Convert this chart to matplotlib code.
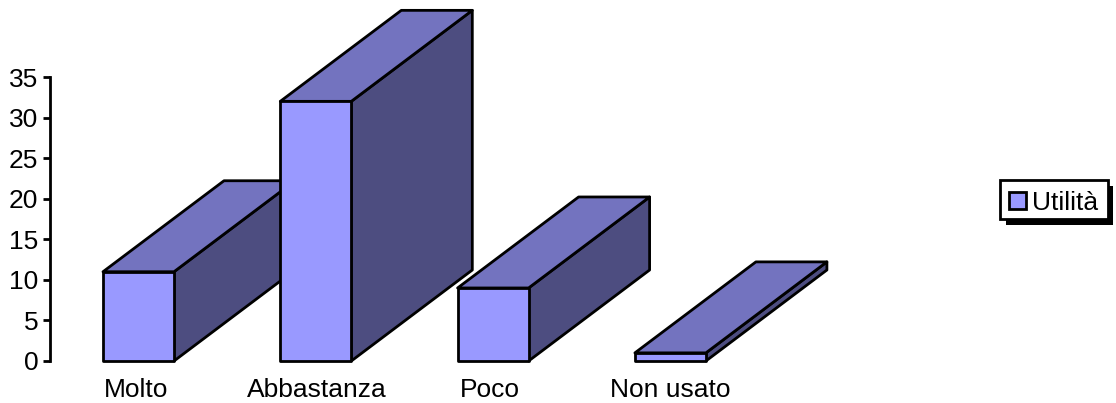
import matplotlib
matplotlib.use("Agg")
import matplotlib.pyplot as plt
from matplotlib.patches import Polygon, Rectangle

categories = ["Molto", "Abbastanza", "Poco", "Non usato"]
values = [11, 32, 9, 1]
y_ticks = [0, 5, 10, 15, 20, 25, 30, 35]
series_name = "Utilità"

W, H = 1116, 403
plt.rcParams['font.family'] = ['Liberation Sans', 'DejaVu Sans']
fig = plt.figure(figsize=(W / 100, H / 100), dpi=100, facecolor='white')
ax = fig.add_axes([0, 0, 1, 1])

# layout in pixels -> axis scales
x_unit = 177.3
x0_px = 138.5
y_unit = 8.114
y0_px = 361.0
ax.set_xlim(-x0_px / x_unit, (W - x0_px) / x_unit)
ax.set_ylim(-(H - y0_px) / y_unit, y0_px / y_unit)
ax.axis('off')

bar_w = 71 / x_unit
depth_x = 121 / x_unit
depth_y = 91 / y_unit
lw = 2.0
fs = 19
FRONT, SIDE, TOP = '#9999ff', '#4d4d80', '#7373bf'

for i, v in enumerate(values):
    l, r = i - bar_w / 2, i + bar_w / 2
    kw = dict(edgecolor='black', linewidth=lw, joinstyle='round', clip_on=False)
    ax.add_patch(Polygon([(r, 0), (r + depth_x, depth_y), (r + depth_x, v + depth_y), (r, v)], facecolor=SIDE, **kw))
    ax.add_patch(Polygon([(l, v), (r, v), (r + depth_x, v + depth_y), (l + depth_x, v + depth_y)], facecolor=TOP, **kw))
    ax.add_patch(Rectangle((l, 0), r - l, v, facecolor=FRONT, **kw))

# category labels (left-anchored as in the reference)
label_px = [104, 247, 460, 610]
for name, px in zip(categories, label_px):
    ax.text((px - x0_px) / x_unit, -(397 - y0_px) / y_unit, name, fontsize=fs,
            ha='left', va='baseline', color='black')

# value axis
axis_x = (50 - x0_px) / x_unit
tick_x = (43 - x0_px) / x_unit
ax.plot([axis_x, axis_x], [0, y_ticks[-1]], color='black', lw=lw, solid_capstyle='projecting')
for t in y_ticks:
    ax.plot([tick_x, axis_x], [t, t], color='black', lw=lw, solid_capstyle='butt')
    ax.text((38.5 - x0_px) / x_unit, t, str(t), fontsize=fs, ha='right', va='center_baseline', color='black')

# legend, drawn in axes-fraction pixels
tr = ax.transAxes
def px_box(x, y, w, h, **kw):
    ax.add_patch(Rectangle((x / W, 1 - (y + h) / H), w / W, h / H, transform=tr, **kw))
px_box(1006, 186, 107, 39, facecolor='black', edgecolor='none')
px_box(1000, 180, 108, 39, facecolor='white', edgecolor='black', linewidth=lw)
px_box(1009, 192, 17, 17, facecolor=FRONT, edgecolor='black', linewidth=lw)
ax.text(1032 / W, 1 - 200 / H, series_name, transform=tr, fontsize=fs, ha='left', va='center_baseline', color='black')

fig.savefig('out.png', dpi=100, facecolor='white')
